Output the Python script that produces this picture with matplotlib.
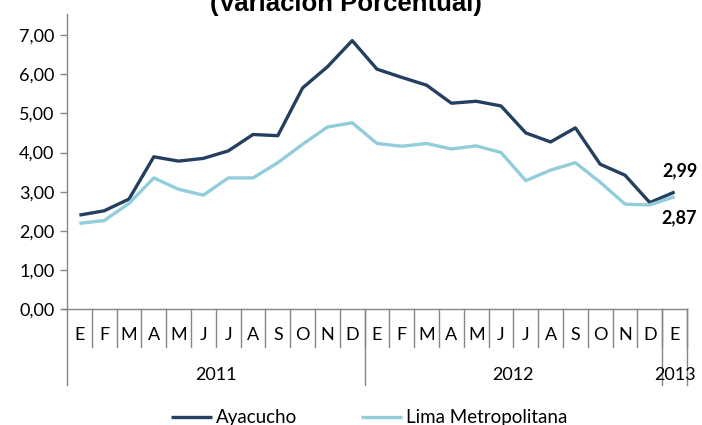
import matplotlib
matplotlib.use("Agg")
import matplotlib.pyplot as plt
import matplotlib.transforms as mtransforms
import numpy as np

plt.rcParams['font.family'] = ['Lato', 'DejaVu Sans']

months = ["E", "F", "M", "A", "M", "J", "J", "A", "S", "O", "N", "D",
          "E", "F", "M", "A", "M", "J", "J", "A", "S", "O", "N", "D", "E"]
years = ["2011", "2012", "2013"]
year_len = [12, 12, 1]

ayacucho = [2.40, 2.51, 2.81, 3.89, 3.78, 3.85, 4.04, 4.46, 4.43, 5.65, 6.19, 6.86,
            6.13, 5.92, 5.72, 5.26, 5.31, 5.19, 4.50, 4.27, 4.63, 3.70, 3.42, 2.72, 2.99]
lima = [2.19, 2.26, 2.70, 3.35, 3.06, 2.91, 3.35, 3.35, 3.74, 4.21, 4.65, 4.76,
        4.23, 4.16, 4.23, 4.09, 4.17, 4.00, 3.28, 3.55, 3.74, 3.24, 2.68, 2.66, 2.87]

dark = "#243F60"
light = "#92CDDC"
grey = "#868686"
fs = 13

W, H = 702, 425
fig = plt.figure(figsize=(W / 100, H / 100), dpi=100)
ax = fig.add_axes([67 / W, 1 - 309 / H, 620 / W, 295 / H])

x = np.arange(len(months))
ax.plot(x, ayacucho, color=dark, lw=2.4, solid_capstyle="butt", label="Ayacucho")
ax.plot(x, lima, color=light, lw=2.4, solid_capstyle="butt", label="Lima Metropolitana")

ax.set_xlim(-0.5, len(months) - 0.5)
ax.set_ylim(0, 7.54)
ax.set_yticks(np.arange(0, 8, 1))
ax.set_yticklabels([f"{v:.2f}".replace(".", ",") for v in range(8)], fontsize=fs)
ax.set_xticks([])

for s in ["top", "right"]:
    ax.spines[s].set_visible(False)
ax.spines["left"].set_color(grey)
ax.spines["bottom"].set_color(grey)
ax.spines["left"].set_linewidth(1)
ax.spines["bottom"].set_linewidth(1)
ax.tick_params(axis="y", length=5, color=grey, width=1, pad=4)

# category axis: month letters, separators, year groups
tr = mtransforms.blended_transform_factory(ax.transData, ax.transAxes)
for i, m in enumerate(months):
    ax.text(i, -0.088, m, transform=tr, ha="center", va="center", fontsize=fs)
for i in range(1, len(months) + 1):
    ax.plot([i - 0.5, i - 0.5], [0, -0.129], transform=tr, color=grey, lw=1, clip_on=False)

start = 0
bounds = [-0.5]
for y, n in zip(years, year_len):
    mid = start + (n - 1) / 2
    ax.text(mid, -0.225, y, transform=tr, ha="center", va="center", fontsize=fs)
    start += n
    bounds.append(start - 0.5)
for b in bounds:
    ax.plot([b, b], [0, -0.258], transform=tr, color=grey, lw=1, clip_on=False)

# left tick on baseline
ax.plot([-0.5 - 5 / 24.8, -0.5], [0, 0], color=grey, lw=1, clip_on=False)

# end labels
ax.text(x[-1] + 0.2, ayacucho[-1] + 0.55, f"{ayacucho[-1]:.2f}".replace(".", ","),
        ha="center", va="center", fontsize=13, fontweight="bold")
ax.text(x[-1] + 0.2, lima[-1] - 0.55, f"{lima[-1]:.2f}".replace(".", ","),
        ha="center", va="center", fontsize=13, fontweight="bold")

fig.text(346 / W, 1 - 11 / H, "(Variación Porcentual)", ha="center", va="baseline",
         fontsize=18.5, fontweight="bold", family="Liberation Sans")

ax.legend(loc="center", bbox_to_anchor=(369 / W, 1 - 418 / H), bbox_transform=fig.transFigure,
          ncol=2, frameon=False, fontsize=13.5, handlelength=2.2, handletextpad=0.2,
          columnspacing=3.4)

fig.savefig("out.png", dpi=100)
